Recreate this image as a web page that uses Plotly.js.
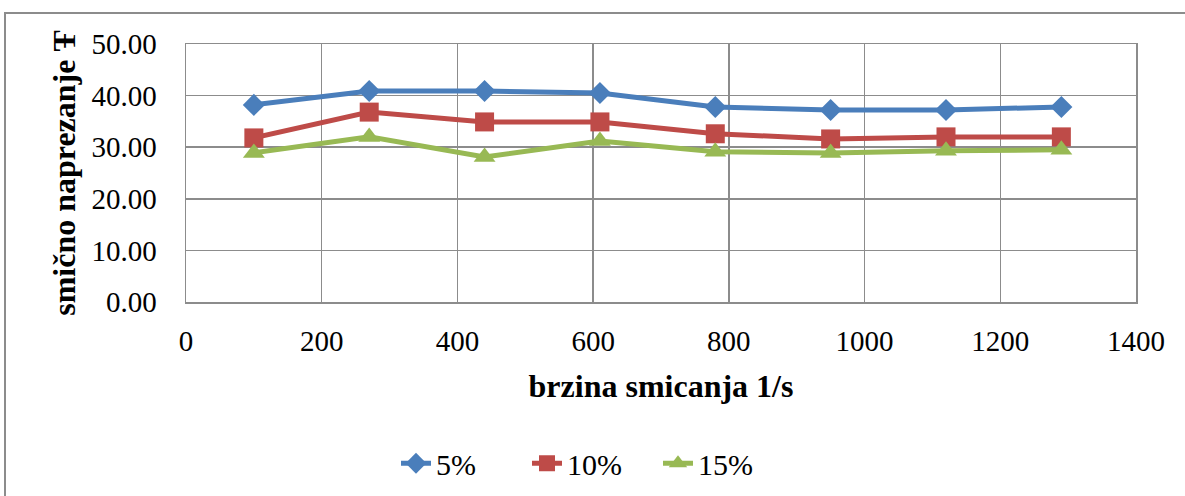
<!DOCTYPE html>
<html>
<head>
<meta charset="utf-8">
<script src="https://cdn.plot.ly/plotly-3.0.1.min.js"></script>
<style>
html,body{margin:0;padding:0;background:#fff;}
#wrap{position:relative;width:1185px;height:496px;overflow:hidden;}
#frame{position:absolute;left:4px;top:12px;width:1300px;height:600px;border:2px solid #8c8c8c;box-sizing:border-box;pointer-events:none;}
#chart{position:absolute;left:0;top:0;width:1185px;height:496px;}
</style>
</head>
<body>
<div id="wrap">
<div id="chart"></div>
<div id="frame"></div>
</div>
<script>
var shearRate = [100, 270, 440, 610, 780, 950, 1120, 1290];
var stress5 = [38.2, 40.9, 40.9, 40.5, 37.8, 37.2, 37.2, 37.8];
var stress10 = [31.8, 36.8, 34.9, 34.9, 32.6, 31.6, 32.0, 32.0];
var stress15 = [28.9, 32.0, 28.1, 31.2, 29.1, 28.9, 29.3, 29.5];
var seriesNames = ['5%', '10%', '15%'];
var xTicks = [0, 200, 400, 600, 800, 1000, 1200, 1400];
var yTicks = [0, 10, 20, 30, 40, 50];

var font = '"Liberation Serif", "Times New Roman", serif';
function tr(y, name, color, symbol, size) {
  return {x: shearRate, y: y, name: name, type: 'scatter', mode: 'lines+markers',
    line: {color: color, width: 5},
    marker: {color: color, symbol: symbol, size: size}};
}
var data = [
  tr(stress5, seriesNames[0], '#4A7EBB', 'diamond', 17),
  tr(stress10, seriesNames[1], '#BE4B48', 'square', 19),
  tr(stress15, seriesNames[2], '#98B954', 'triangle-up', 19)
];
var layout = {
  width: 1185, height: 496,
  margin: {l: 186, r: 49, t: 44, b: 194},
  paper_bgcolor: '#fff', plot_bgcolor: '#fff',
  font: {family: font, color: '#000', size: 29},
  showlegend: true,
  legend: {orientation: 'h', x: 0.5, xanchor: 'center', xref: 'container', y: 0.066, yref: 'container', yanchor: 'middle',
    font: {family: font, size: 30}, traceorder: 'normal', entrywidth: 86, entrywidthmode: 'pixels'},
  xaxis: {range: [0, 1400], tickvals: xTicks, ticktext: xTicks.map(String),
    showgrid: true, gridcolor: '#8c8c8c', gridwidth: 1.5, zeroline: false,
    showline: true, linecolor: '#8c8c8c', linewidth: 1.5, mirror: true,
    ticks: '', ticklabelstandoff: 13, tickfont: {family: font, size: 29},
    title: {text: '<b>brzina smicanja 1/s</b>', font: {family: font, size: 32}, standoff: 18}},
  yaxis: {range: [0, 50], tickvals: yTicks, ticktext: yTicks.map(function(v){return v.toFixed(2);}),
    showgrid: true, gridcolor: '#8c8c8c', gridwidth: 1.5, zeroline: false,
    showline: true, linecolor: '#8c8c8c', linewidth: 1.5, mirror: true,
    ticks: '', ticklabelstandoff: 22, tickfont: {family: font, size: 29},
    title: {text: '<b>smično naprezanje Ŧ</b>', font: {family: font, size: 32}, standoff: 6}}
};
Plotly.newPlot('chart', data, layout, {displayModeBar: false, staticPlot: true});
</script>
</body>
</html>
